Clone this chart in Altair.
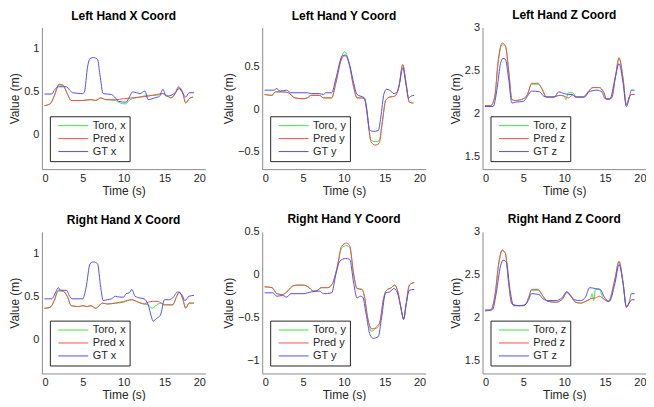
import altair as alt
import pandas as pd

# ---------------- data ----------------
# Left hand X
LX_GT_T = [0.3, 1.2, 1.6, 2.0, 3.0, 3.4, 3.8, 5.0, 5.2, 5.6, 5.9, 6.3, 6.8, 7.1, 7.5, 8.5, 8.9, 9.4, 10.3, 10.6, 11.1, 11.6, 12.0, 12.6, 13.0, 13.8, 14.4, 14.8, 15.2, 15.8, 16.3, 16.8, 17.2, 17.6, 18.0, 18.6]
LX_GT_V = [0.475, 0.475, 0.53, 0.56, 0.56, 0.52, 0.49, 0.48, 0.50, 0.80, 0.89, 0.90, 0.88, 0.70, 0.48, 0.47, 0.44, 0.39, 0.38, 0.42, 0.50, 0.49, 0.48, 0.51, 0.41, 0.43, 0.45, 0.53, 0.45, 0.46, 0.49, 0.54, 0.49, 0.44, 0.49, 0.49]
LX_PR_T = [0.3, 1.0, 1.5, 2.1, 2.6, 3.1, 3.6, 5.0, 6.0, 6.6, 7.2, 7.8, 9.0, 10.0, 11.0, 12.0, 13.0, 14.0, 14.8, 15.4, 15.8, 16.3, 16.7, 17.2, 17.6, 18.0, 18.5]
LX_PR_V = [0.34, 0.36, 0.45, 0.59, 0.58, 0.48, 0.40, 0.40, 0.41, 0.40, 0.43, 0.41, 0.41, 0.42, 0.43, 0.44, 0.45, 0.47, 0.48, 0.45, 0.43, 0.48, 0.56, 0.50, 0.37, 0.42, 0.44]
LX_TO_T = [0.3, 1.0, 1.5, 2.1, 2.6, 3.1, 3.6, 5.0, 6.0, 6.6, 7.2, 7.8, 9.0, 9.6, 10.2, 10.8, 12.0, 13.0, 14.0, 14.8, 15.4, 15.8, 16.3, 16.7, 17.2, 17.6, 18.0, 18.5]
LX_TO_V = [0.34, 0.36, 0.45, 0.58, 0.57, 0.48, 0.40, 0.40, 0.41, 0.40, 0.43, 0.41, 0.40, 0.37, 0.36, 0.41, 0.44, 0.46, 0.46, 0.48, 0.45, 0.43, 0.48, 0.55, 0.50, 0.37, 0.42, 0.44]

# Left hand Y
LY_GT_T = [0.3, 1.5, 1.7, 2.2, 3.0, 3.5, 5.5, 6.0, 7.0, 7.5, 7.8, 8.5, 9.0, 9.8, 10.2, 10.6, 11.2, 11.6, 12.5, 12.8, 13.1, 13.6, 14.2, 14.5, 14.9, 15.2, 15.6, 16.1, 16.5, 16.8, 17.2, 17.6, 17.9, 18.2, 18.6]
LY_GT_V = [0.22, 0.22, 0.24, 0.21, 0.22, 0.19, 0.19, 0.18, 0.18, 0.17, 0.19, 0.19, 0.35, 0.62, 0.63, 0.55, 0.30, 0.17, 0.13, 0.00, -0.24, -0.26, -0.25, -0.10, 0.18, 0.23, 0.22, 0.18, 0.20, 0.30, 0.48, 0.28, 0.13, 0.15, 0.16]
LY_PR_T = [0.3, 1.2, 1.6, 2.5, 3.2, 4.0, 5.0, 5.5, 6.0, 7.0, 7.5, 8.5, 9.0, 9.8, 10.2, 10.7, 11.2, 11.6, 12.2, 12.5, 12.9, 13.3, 13.8, 14.3, 14.7, 15.1, 15.6, 16.2, 16.7, 17.2, 17.6, 18.0, 18.5]
LY_PR_V = [0.17, 0.16, 0.20, 0.20, 0.19, 0.13, 0.12, 0.13, 0.16, 0.16, 0.13, 0.13, 0.30, 0.60, 0.62, 0.50, 0.25, 0.13, 0.13, 0.12, -0.10, -0.38, -0.42, -0.40, -0.15, 0.10, 0.14, 0.15, 0.25, 0.52, 0.30, 0.08, 0.07]
LY_TO_T = [0.3, 1.2, 1.6, 2.5, 3.2, 4.0, 5.0, 5.5, 6.0, 7.0, 7.5, 8.5, 9.0, 9.8, 10.1, 10.7, 11.2, 11.6, 12.2, 12.5, 12.9, 13.3, 13.8, 14.3, 14.7, 15.1, 15.6, 16.2, 16.7, 17.2, 17.6, 18.0, 18.5]
LY_TO_V = [0.17, 0.16, 0.20, 0.20, 0.19, 0.13, 0.12, 0.13, 0.16, 0.16, 0.13, 0.13, 0.30, 0.63, 0.67, 0.50, 0.25, 0.13, 0.13, 0.12, -0.10, -0.36, -0.38, -0.37, -0.15, 0.10, 0.14, 0.15, 0.25, 0.51, 0.30, 0.08, 0.07]

# Left hand Z
LZ_GT_T = [0.3, 1.3, 1.8, 2.2, 2.5, 2.8, 3.2, 3.6, 4.0, 5.0, 5.5, 6.0, 7.0, 7.5, 8.0, 8.8, 9.3, 10.0, 10.5, 11.0, 11.4, 12.5, 13.0, 14.0, 14.6, 15.0, 15.6, 16.2, 16.7, 17.2, 17.6, 18.0, 18.2, 18.6]
LZ_GT_V = [2.08, 2.08, 2.30, 2.58, 2.64, 2.63, 2.40, 2.12, 2.13, 2.14, 2.20, 2.26, 2.25, 2.20, 2.19, 2.19, 2.25, 2.23, 2.22, 2.22, 2.19, 2.19, 2.25, 2.27, 2.25, 2.17, 2.17, 2.40, 2.58, 2.35, 2.08, 2.20, 2.27, 2.27]
LZ_PR_T = [0.3, 1.0, 1.5, 1.9, 2.4, 2.8, 3.2, 3.6, 4.0, 5.0, 5.5, 6.0, 6.8, 7.3, 7.8, 8.5, 9.5, 10.0, 10.5, 11.0, 11.5, 12.3, 13.0, 13.5, 14.3, 14.8, 15.2, 15.8, 16.3, 16.7, 17.2, 17.6, 18.0, 18.3, 18.6]
LZ_PR_V = [2.09, 2.09, 2.20, 2.60, 2.82, 2.79, 2.50, 2.16, 2.15, 2.17, 2.22, 2.35, 2.35, 2.28, 2.19, 2.19, 2.21, 2.20, 2.18, 2.21, 2.19, 2.19, 2.26, 2.30, 2.30, 2.25, 2.16, 2.18, 2.45, 2.65, 2.40, 2.10, 2.20, 2.22, 2.22]
LZ_TO_T = [0.3, 1.0, 1.5, 1.9, 2.4, 2.8, 3.2, 3.6, 4.0, 5.0, 5.5, 6.0, 6.8, 7.3, 7.8, 8.5, 9.5, 10.0, 10.2, 10.5, 11.0, 11.5, 12.3, 13.0, 13.5, 14.3, 14.8, 15.2, 15.8, 16.3, 16.7, 17.2, 17.6, 18.0, 18.3, 18.6]
LZ_TO_V = [2.09, 2.09, 2.19, 2.58, 2.80, 2.78, 2.50, 2.16, 2.15, 2.17, 2.22, 2.34, 2.34, 2.28, 2.19, 2.19, 2.21, 2.20, 2.16, 2.24, 2.24, 2.19, 2.19, 2.26, 2.30, 2.30, 2.25, 2.16, 2.18, 2.45, 2.64, 2.40, 2.10, 2.20, 2.22, 2.22]

# Right hand X
RX_GT_T = [0.3, 1.2, 1.7, 2.0, 2.3, 3.0, 3.4, 3.7, 5.0, 5.4, 5.9, 6.3, 6.8, 7.2, 7.5, 8.0, 8.5, 9.0, 9.5, 10.0, 10.3, 10.7, 11.0, 11.4, 12.0, 12.5, 13.0, 13.4, 13.6, 14.0, 14.5, 15.0, 15.5, 16.0, 16.6, 17.1, 17.5, 18.0, 18.6]
RX_GT_V = [0.47, 0.47, 0.55, 0.60, 0.57, 0.57, 0.50, 0.47, 0.47, 0.60, 0.88, 0.90, 0.88, 0.60, 0.45, 0.46, 0.47, 0.50, 0.49, 0.49, 0.53, 0.54, 0.58, 0.50, 0.48, 0.47, 0.40, 0.26, 0.21, 0.24, 0.28, 0.46, 0.46, 0.48, 0.55, 0.52, 0.45, 0.50, 0.51]
RX_PR_T = [0.3, 1.0, 1.5, 2.0, 2.6, 3.1, 3.6, 4.5, 5.0, 5.5, 6.0, 6.6, 7.0, 7.4, 8.0, 9.0, 10.0, 11.0, 11.8, 12.5, 13.0, 13.5, 14.2, 14.6, 15.0, 16.0, 16.5, 16.8, 17.2, 17.6, 18.0, 18.6]
RX_PR_V = [0.36, 0.37, 0.45, 0.57, 0.56, 0.50, 0.39, 0.38, 0.39, 0.38, 0.39, 0.36, 0.39, 0.42, 0.41, 0.42, 0.44, 0.46, 0.43, 0.41, 0.43, 0.44, 0.44, 0.42, 0.40, 0.40, 0.50, 0.55, 0.48, 0.36, 0.42, 0.42]
RX_TO_T = [0.3, 1.0, 1.5, 2.0, 2.6, 3.1, 3.6, 4.5, 5.0, 5.5, 6.0, 6.6, 7.0, 7.4, 8.0, 9.0, 10.0, 11.0, 11.8, 12.5, 13.0, 13.5, 14.2, 14.6, 15.0, 16.0, 16.5, 16.8, 17.2, 17.6, 18.0, 18.6]
RX_TO_V = [0.36, 0.37, 0.44, 0.56, 0.56, 0.50, 0.39, 0.38, 0.39, 0.38, 0.39, 0.36, 0.39, 0.42, 0.41, 0.42, 0.43, 0.46, 0.43, 0.41, 0.40, 0.36, 0.41, 0.42, 0.40, 0.40, 0.50, 0.54, 0.48, 0.36, 0.42, 0.42]

# Right hand Y
RY_GT_T = [0.3, 1.3, 1.8, 2.5, 3.0, 3.5, 5.0, 6.0, 7.0, 7.5, 8.5, 9.0, 9.5, 10.2, 10.7, 11.2, 11.6, 12.0, 12.3, 12.7, 13.2, 13.6, 14.2, 14.6, 15.1, 15.6, 16.1, 16.5, 16.9, 17.3, 17.6, 18.0, 18.6]
RY_GT_V = [-0.21, -0.21, -0.25, -0.24, -0.26, -0.22, -0.22, -0.20, -0.19, -0.22, -0.21, 0.00, 0.16, 0.19, 0.18, -0.10, -0.27, -0.25, -0.26, -0.45, -0.70, -0.74, -0.72, -0.50, -0.21, -0.20, -0.16, -0.20, -0.35, -0.52, -0.35, -0.18, -0.17]
RY_PR_T = [0.3, 1.2, 1.8, 2.5, 3.0, 3.6, 4.2, 5.0, 5.6, 6.3, 6.8, 7.2, 8.0, 8.6, 9.2, 9.7, 10.3, 10.7, 11.2, 11.6, 12.2, 12.5, 12.9, 13.4, 14.0, 14.4, 14.8, 15.2, 15.8, 16.2, 16.6, 17.0, 17.3, 17.6, 18.0, 18.6]
RY_PR_V = [-0.14, -0.15, -0.22, -0.23, -0.20, -0.14, -0.12, -0.12, -0.14, -0.19, -0.18, -0.15, -0.15, -0.10, 0.10, 0.33, 0.37, 0.34, 0.00, -0.16, -0.17, -0.25, -0.50, -0.63, -0.62, -0.55, -0.30, -0.18, -0.15, -0.12, -0.20, -0.40, -0.52, -0.35, -0.12, -0.09]
RY_TO_T = [0.3, 1.2, 1.8, 2.5, 3.0, 3.6, 4.2, 5.0, 5.6, 6.3, 6.8, 7.2, 8.0, 8.6, 9.2, 9.7, 10.3, 10.7, 11.2, 11.6, 12.2, 12.5, 12.9, 13.4, 14.0, 14.4, 14.8, 15.2, 15.8, 16.2, 16.6, 17.0, 17.3, 17.6, 18.0, 18.6]
RY_TO_V = [-0.14, -0.15, -0.22, -0.23, -0.20, -0.14, -0.12, -0.12, -0.14, -0.19, -0.18, -0.15, -0.15, -0.10, 0.10, 0.31, 0.34, 0.32, 0.00, -0.16, -0.17, -0.25, -0.50, -0.66, -0.60, -0.55, -0.30, -0.18, -0.15, -0.12, -0.20, -0.40, -0.51, -0.35, -0.12, -0.09]

# Right hand Z
RZ_GT_T = [0.3, 1.2, 1.7, 2.2, 2.5, 2.9, 3.4, 3.8, 5.0, 5.6, 6.0, 6.9, 7.4, 8.0, 9.0, 9.7, 10.3, 10.8, 11.2, 12.0, 12.6, 13.1, 13.8, 14.4, 14.9, 15.5, 16.2, 16.7, 17.2, 17.6, 18.0, 18.2, 18.6]
RZ_GT_V = [2.09, 2.09, 2.30, 2.60, 2.67, 2.65, 2.30, 2.14, 2.14, 2.20, 2.28, 2.27, 2.22, 2.20, 2.20, 2.23, 2.30, 2.26, 2.21, 2.20, 2.24, 2.35, 2.34, 2.33, 2.24, 2.19, 2.40, 2.62, 2.40, 2.13, 2.20, 2.28, 2.28]
RZ_PR_T = [0.3, 1.0, 1.5, 2.0, 2.4, 2.8, 3.2, 3.6, 4.5, 5.2, 5.7, 6.0, 6.8, 7.4, 8.0, 9.0, 9.8, 10.3, 10.8, 11.4, 12.0, 12.6, 13.2, 13.8, 14.3, 14.8, 15.4, 16.2, 16.7, 17.2, 17.6, 18.0, 18.3, 18.6]
RZ_PR_V = [2.08, 2.09, 2.25, 2.65, 2.79, 2.75, 2.40, 2.16, 2.14, 2.15, 2.25, 2.33, 2.33, 2.25, 2.19, 2.18, 2.22, 2.30, 2.25, 2.18, 2.17, 2.19, 2.22, 2.23, 2.25, 2.22, 2.19, 2.45, 2.66, 2.40, 2.12, 2.18, 2.21, 2.21]
RZ_TO_T = [0.3, 1.0, 1.5, 2.0, 2.4, 2.8, 3.2, 3.6, 4.5, 5.2, 5.7, 6.0, 6.8, 7.4, 8.0, 9.0, 9.8, 10.3, 10.8, 11.4, 12.0, 12.6, 13.2, 13.4, 13.6, 13.8, 14.3, 14.8, 15.4, 16.2, 16.7, 17.2, 17.6, 18.0, 18.3, 18.6]
RZ_TO_V = [2.08, 2.09, 2.24, 2.63, 2.78, 2.75, 2.40, 2.16, 2.14, 2.15, 2.25, 2.32, 2.32, 2.25, 2.19, 2.18, 2.22, 2.29, 2.25, 2.18, 2.17, 2.19, 2.22, 2.28, 2.20, 2.33, 2.33, 2.22, 2.19, 2.45, 2.65, 2.40, 2.12, 2.18, 2.21, 2.21]

X_TICKS = [0, 5, 10, 15, 20]
COLORS = ["#45e045", "#f45050", "#5050f4"]
FONT = "Liberation Sans"


def panel(title, names, series, ydomain, yticks, title_offset):
    frames = [pd.DataFrame({"t": T, "v": V, "s": n}) for n, (T, V) in zip(names, series)]
    df = pd.concat(frames, ignore_index=True)
    layers = []
    for n in names:
        layers.append(
            alt.Chart(df)
            .transform_filter(alt.datum.s == n)
            .mark_line(strokeWidth=1, interpolate="monotone", clip=True)
            .encode(
                x=alt.X("t:Q", scale=alt.Scale(domain=[0, 20], nice=False),
                        axis=alt.Axis(values=X_TICKS, title="Time (s)")),
                y=alt.Y("v:Q", scale=alt.Scale(domain=ydomain, nice=False, zero=False),
                        axis=alt.Axis(values=yticks, title="Value (m)", format="~g")),
                color=alt.Color("s:N", scale=alt.Scale(domain=names, range=COLORS),
                                legend=alt.Legend(title=None, orient="bottom-left")),
            )
        )
    return alt.layer(*layers).properties(
        width=164, height=142,
        title=alt.TitleParams(title, fontSize=12, fontWeight="bold", font=FONT, offset=title_offset),
    )


# panels whose top tick label sits on the top edge get a smaller title offset
p1 = panel("Left Hand X Coord", ["Toro, x", "Pred x", "GT x"],
           [(LX_TO_T, LX_TO_V), (LX_PR_T, LX_PR_V), (LX_GT_T, LX_GT_V)], [-0.4, 1.25], [0, 0.5, 1], 5)
p2 = panel("Left Hand Y Coord", ["Toro, y", "Pred y", "GT y"],
           [(LY_TO_T, LY_TO_V), (LY_PR_T, LY_PR_V), (LY_GT_T, LY_GT_V)], [-0.7, 0.95], [-0.5, 0, 0.5], 5)
p3 = panel("Left Hand Z Coord", ["Toro, z", "Pred z", "GT z"],
           [(LZ_TO_T, LZ_TO_V), (LZ_PR_T, LZ_PR_V), (LZ_GT_T, LZ_GT_V)], [1.35, 3.0], [1.5, 2, 2.5, 3], 0)
p4 = panel("Right Hand X Coord", ["Toro, x", "Pred x", "GT x"],
           [(RX_TO_T, RX_TO_V), (RX_PR_T, RX_PR_V), (RX_GT_T, RX_GT_V)], [-0.4, 1.25], [0, 0.5, 1], 5)
p5 = panel("Right Hand Y Coord", ["Toro, y", "Pred y", "GT y"],
           [(RY_TO_T, RY_TO_V), (RY_PR_T, RY_PR_V), (RY_GT_T, RY_GT_V)], [-1.15, 0.5], [-1, -0.5, 0, 0.5], 0)
p6 = panel("Right Hand Z Coord", ["Toro, z", "Pred z", "GT z"],
           [(RZ_TO_T, RZ_TO_V), (RZ_PR_T, RZ_PR_V), (RZ_GT_T, RZ_GT_V)], [1.35, 3.0], [1.5, 2, 2.5, 3], 0)

chart = (
    alt.concat(p1, p2, p3, p4, p5, p6, columns=3,
               spacing=alt.RowColnumber(row=63, column=57), bounds="flush")
    .resolve_scale(color="independent")
    .properties(padding={"left": 0, "top": 0, "right": 0, "bottom": 0})
    .configure(background="white", font=FONT)
    .configure_view(stroke=None)
    .configure_axis(
        grid=False, ticks=False, domainColor="#8c8c8c", domainWidth=1,
        labelFont=FONT, labelFontSize=11, labelColor="#262626", labelPadding=3,
        titleFont=FONT, titleFontSize=12, titleFontWeight="normal", titleColor="#262626", titlePadding=2,
    )
    .configure_legend(
        strokeColor="#262626", fillColor="white", padding=3, offset=8,
        symbolType="stroke", symbolSize=900, symbolStrokeWidth=1, symbolOffset=5,
        labelFont=FONT, labelFontSize=11, labelColor="#262626", labelOffset=4,
        clipHeight=12.8, rowPadding=0,
    )
    .configure_title(anchor="middle", color="#000000")
)

chart.save("out.html", embed_options={"renderer": "svg", "actions": False})
